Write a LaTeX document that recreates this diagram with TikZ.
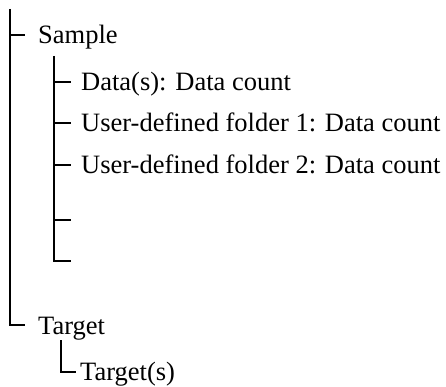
\documentclass[tikz,border=0pt]{standalone}
\usepackage{fontspec}
\setmainfont{Liberation Serif}
\begin{document}
\begin{tikzpicture}[x=1pt,y=-1pt,
  tree/.style={line width=2pt},
  lbl/.style={anchor=base west, inner sep=0pt, font=\fontsize{26.5}{30}\selectfont}]
\useasboundingbox (0,0) rectangle (446,387);
% main branch
\coordinate (rtop) at (10,9);
\coordinate (rbot) at (10,325);
\coordinate (tS) at (25,35);
\coordinate (tT) at (25,325);
\node[lbl] (sample) at (38,44) {Sample};
\node[lbl] (target) at (38,334) {Target};
\draw[tree] (rtop) -- (rbot) -- (tT);
\draw[tree] (rtop |- tS) -- (tS);
% sample sub-branch
\coordinate (stop) at (54,56);
\coordinate (sbot) at (54,261);
\coordinate (t1) at (71,82);
\coordinate (t2) at (71,123);
\coordinate (t3) at (71,165);
\coordinate (t4) at (71,220);
\coordinate (t5) at (71,261);
\node[lbl] (data) at (81,91) {Data(s): Data count};
\node[lbl] (udf1) at (81,132) {User-defined folder 1: Data count};
\node[lbl] (udf2) at (81,174) {User-defined folder 2: Data count};
\draw[tree] (stop) -- (sbot) -- (t5);
\foreach \t in {t1,t2,t3,t4} \draw[tree] (stop |- \t) -- (\t);
% target sub-branch
\coordinate (ttop) at (61,340);
\coordinate (tbot) at (61,372);
\coordinate (tts) at (76,372);
\node[lbl] (targets) at (80,380) {Target(s)};
\draw[tree] (ttop) -- (tbot) -- (tts);
\end{tikzpicture}
\end{document}
